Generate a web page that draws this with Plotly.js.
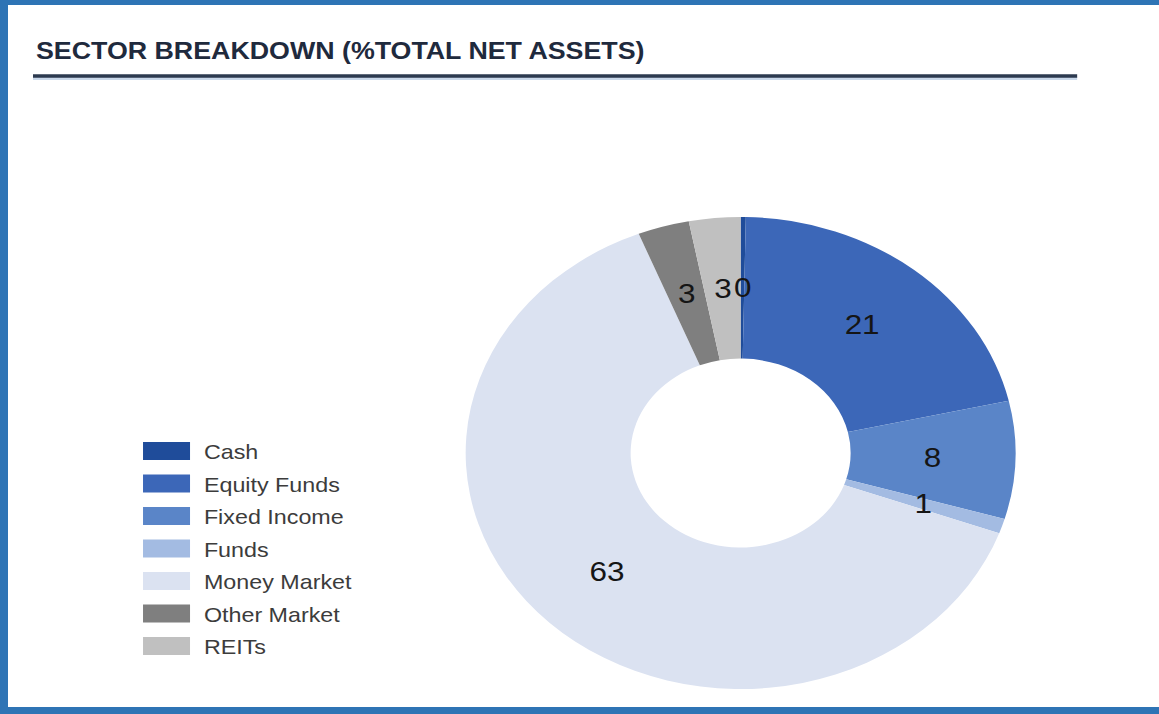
<!DOCTYPE html>
<html>
<head>
<meta charset="utf-8">
<script src="https://cdn.plot.ly/plotly-3.0.1.min.js"></script>
<style>
  html, body { margin: 0; padding: 0; background: #ffffff; overflow: hidden; width: 1159px; height: 714px; }
  #chart { position: absolute; left: 0; top: 0; transform-origin: 0 0; }
</style>
</head>
<body>
<div id="chart"></div>
<script>
// ---- data ----
const categories = ["Cash", "Equity Funds", "Fixed Income", "Funds", "Money Market", "Other Market", "REITs"];
const values = [0.3, 21, 8, 1, 63, 3, 3];
const labelsShown = ["0", "21", "8", "1", "63", "3", "3"];
const colors = ["#1f4c9a", "#3c67b8", "#5a85c8", "#a3bbe2", "#dbe2f1", "#7f7f7f", "#c0c0c0"];
const chartTitle = "SECTOR BREAKDOWN (%TOTAL NET ASSETS)";

// ---- layout geometry (source picture is horizontally stretched) ----
const SX = 1.165;
const W = 1159 / SX, H = 714;
const el = document.getElementById('chart');
el.style.width = W + 'px';
el.style.height = H + 'px';
el.style.transform = 'scaleX(' + SX + ')';

const cx = 740.5 / SX, cy = 453, R = 236, HOLE = 0.40;

const shapes = [];
const annotations = [];

// frame
shapes.push({type: 'rect', xref: 'paper', yref: 'paper', x0: 0, x1: 8 / SX / W, y0: 0, y1: 1, fillcolor: '#2e74b5', line: {width: 0}, layer: 'above'});
shapes.push({type: 'rect', xref: 'paper', yref: 'paper', x0: 0, x1: 1, y0: 1 - 5 / H, y1: 1, fillcolor: '#2e74b5', line: {width: 0}, layer: 'above'});
shapes.push({type: 'rect', xref: 'paper', yref: 'paper', x0: 0, x1: 1, y0: 0, y1: 7 / H, fillcolor: '#2e74b5', line: {width: 0}, layer: 'above'});
// title underline
shapes.push({type: 'line', xref: 'paper', yref: 'paper', x0: 33 / SX / W, x1: 1077 / SX / W, y0: 1 - 78.5 / H, y1: 1 - 78.5 / H, line: {color: '#c9d8ea', width: 3}});
shapes.push({type: 'line', xref: 'paper', yref: 'paper', x0: 33 / SX / W, x1: 1077 / SX / W, y0: 1 - 76 / H, y1: 1 - 76 / H, line: {color: '#2c3a4f', width: 3.5}});

// slice value labels, placed at mid-ring from the data
const total = values.reduce((a, b) => a + b, 0);
const rMid = R * (1 + HOLE) / 2;
let cum = 0;
values.forEach((v, i) => {
  const th = (cum + v / 2) / total * 2 * Math.PI;
  cum += v;
  const px = cx + rMid * Math.sin(th);
  const py = cy - rMid * Math.cos(th);
  annotations.push({
    xref: 'paper', yref: 'paper', x: px / W, y: 1 - py / H,
    xanchor: 'center', yanchor: 'middle', showarrow: false,
    text: labelsShown[i],
    font: {family: 'Liberation Sans, Arial, sans-serif', size: 27, color: '#151515'}
  });
});

// legend built from categories and colours
categories.forEach((c, i) => {
  const yc = 451 + i * 32.5;
  shapes.push({type: 'rect', xref: 'paper', yref: 'paper',
    x0: 143 / SX / W, x1: 190 / SX / W, y0: 1 - (yc + 9) / H, y1: 1 - (yc - 9) / H,
    fillcolor: colors[i], line: {width: 0}});
  annotations.push({
    xref: 'paper', yref: 'paper', x: 202 / SX / W, y: 1 - (yc + 1) / H,
    xanchor: 'left', yanchor: 'middle', showarrow: false, text: c,
    font: {family: 'Liberation Sans, Arial, sans-serif', size: 20, color: '#3c3c3c'}
  });
});

const trace = {
  type: 'pie',
  labels: categories,
  values: values,
  hole: HOLE,
  sort: false,
  direction: 'clockwise',
  rotation: 0,
  textinfo: 'none',
  hoverinfo: 'label+value',
  showlegend: false,
  marker: {colors: colors, line: {width: 0}},
  domain: {x: [(cx - R) / W, (cx + R) / W], y: [(H - cy - R) / H, (H - cy + R) / H]}
};

const layout = {
  width: W, height: H,
  margin: {l: 0, r: 0, t: 0, b: 0},
  paper_bgcolor: '#ffffff',
  plot_bgcolor: '#ffffff',
  showlegend: false,
  title: {
    text: '<b>' + chartTitle + '</b>',
    x: 36 / SX / W, xanchor: 'left', xref: 'paper',
    y: 1 - 51 / H, yanchor: 'middle', yref: 'paper',
    font: {family: 'Liberation Sans, Arial, sans-serif', size: 23, color: '#1f2a3d'}
  },
  shapes: shapes,
  annotations: annotations
};

Plotly.newPlot('chart', [trace], layout, {displayModeBar: false, staticPlot: true});
</script>
</body>
</html>
